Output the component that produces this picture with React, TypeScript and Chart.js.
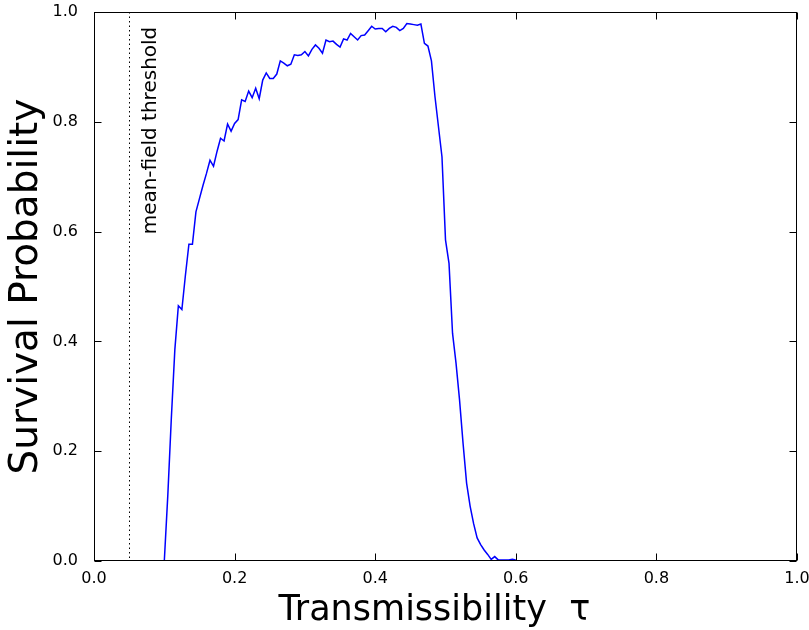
import React, { useEffect, useRef } from "react";
import { Chart, registerables } from "chart.js";

Chart.register(...registerables);

// Transmissibility values (x) and survival probability (y)
const tau: number[] = [
  0.100, 0.105, 0.110, 0.115, 0.120, 0.125, 0.130, 0.135, 0.140, 0.145,
  0.150, 0.155, 0.160, 0.165, 0.170, 0.175, 0.180, 0.185, 0.190, 0.195,
  0.200, 0.205, 0.210, 0.215, 0.220, 0.225, 0.230, 0.235, 0.240, 0.245,
  0.250, 0.255, 0.260, 0.265, 0.270, 0.275, 0.280, 0.285, 0.290, 0.295,
  0.300, 0.305, 0.310, 0.315, 0.320, 0.325, 0.330, 0.335, 0.340, 0.345,
  0.350, 0.355, 0.360, 0.365, 0.370, 0.375, 0.380, 0.385, 0.390, 0.395,
  0.400, 0.405, 0.410, 0.415, 0.420, 0.425, 0.430, 0.435, 0.440, 0.445,
  0.450, 0.455, 0.460, 0.465, 0.470, 0.475, 0.480, 0.485, 0.490, 0.495,
  0.500, 0.505, 0.510, 0.515, 0.520, 0.525, 0.530, 0.535, 0.540, 0.545,
  0.550, 0.555, 0.560, 0.565, 0.570, 0.575, 0.580, 0.585, 0.590, 0.595,
  0.600,
];

const survival: number[] = [
  0.000, 0.120, 0.260, 0.385, 0.465, 0.458, 0.520, 0.577, 0.577, 0.636,
  0.660, 0.684, 0.706, 0.730, 0.719, 0.746, 0.770, 0.765, 0.796, 0.783,
  0.797, 0.804, 0.840, 0.837, 0.856, 0.844, 0.861, 0.842, 0.876, 0.889,
  0.879, 0.879, 0.887, 0.911, 0.907, 0.902, 0.905, 0.922, 0.921, 0.922,
  0.928, 0.920, 0.932, 0.940, 0.934, 0.925, 0.949, 0.946, 0.947, 0.941,
  0.936, 0.951, 0.949, 0.961, 0.955, 0.949, 0.957, 0.958, 0.966, 0.974,
  0.969, 0.970, 0.970, 0.964, 0.970, 0.974, 0.972, 0.966, 0.970, 0.979,
  0.978, 0.977, 0.976, 0.978, 0.943, 0.938, 0.911, 0.846, 0.791, 0.736,
  0.585, 0.542, 0.415, 0.360, 0.293, 0.214, 0.142, 0.100, 0.068, 0.042,
  0.030, 0.020, 0.012, 0.003, 0.008, 0.002, 0.002, 0.002, 0.002, 0.003,
  0.002,
];

const tickValues: number[] = [0, 0.2, 0.4, 0.6, 0.8, 1.0];
const thresholdTau = 0.05;
const thresholdLabel = "mean-field threshold";
const thresholdLabelX = 0.07;
const thresholdLabelY = 0.595;
const xTitle = "Transmissibility  \u03c4  ";
const yTitle = "Survival Probability";

const FONT = "'DejaVu Sans', sans-serif";

const framePlugin = {
  id: "mplFrame",
  afterDatasetsDraw(chart: any) {
    const { ctx, chartArea } = chart;
    const xs = chart.scales.x;
    const ys = chart.scales.y;
    const { left, right, top, bottom } = chartArea;
    ctx.save();
    // threshold dotted line
    const tx = Math.round(xs.getPixelForValue(thresholdTau)) + 0.5;
    ctx.strokeStyle = "#000";
    ctx.lineWidth = 1;
    ctx.setLineDash([1.5, 3]);
    ctx.beginPath();
    ctx.moveTo(tx, top);
    ctx.lineTo(tx, bottom);
    ctx.stroke();
    ctx.setLineDash([]);

    // threshold label
    const fs = 20;
    ctx.font = `${fs}px ${FONT}`;
    ctx.fillStyle = "#000";
    ctx.textAlign = "left";
    ctx.textBaseline = "alphabetic";
    ctx.translate(xs.getPixelForValue(thresholdLabelX) + fs * 0.65, ys.getPixelForValue(thresholdLabelY));
    ctx.rotate(-Math.PI / 2);
    ctx.fillText(thresholdLabel, 0, 0);
    ctx.setTransform(1, 0, 0, 1, 0, 0);

    // frame
    ctx.strokeStyle = "#000";
    ctx.lineWidth = 1;
    const L = Math.round(left) + 0.5;
    const R = Math.round(right) - 0.5;
    const T = Math.round(top) + 0.5;
    const B = Math.round(bottom) - 0.5;
    ctx.strokeRect(L, T, R - L, B - T);

    // inward ticks on all sides
    const tl = 7;
    ctx.beginPath();
    tickValues.forEach((v) => {
      const px = Math.round(xs.getPixelForValue(v)) + 0.5;
      ctx.moveTo(px, B);
      ctx.lineTo(px, B - tl);
      ctx.moveTo(px, T);
      ctx.lineTo(px, T + tl);
      const py = Math.round(ys.getPixelForValue(v)) + 0.5;
      ctx.moveTo(L, py);
      ctx.lineTo(L + tl, py);
      ctx.moveTo(R, py);
      ctx.lineTo(R - tl, py);
    });
    ctx.stroke();
    ctx.restore();
  },
};

export default function App() {
  const ref = useRef<HTMLCanvasElement | null>(null);
  useEffect(() => {
    if (!ref.current) return;
    const data = tau.map((t, i) => ({ x: t, y: survival[i] }));
    const chart = new Chart(ref.current, {
      type: "line",
      data: {
        datasets: [
          {
            data,
            borderColor: "rgb(0,0,255)",
            borderWidth: 1.5,
            pointRadius: 0,
            fill: false,
            tension: 0,
          },
        ],
      },
      options: {
        animation: false,
        responsive: false,
        devicePixelRatio: 1,
        layout: { padding: { left: 0, top: 12, right: 12, bottom: 0 } },
        plugins: { legend: { display: false }, tooltip: { enabled: false } },
        scales: {
          x: {
            type: "linear",
            min: 0,
            max: 1,
            grid: { display: false },
            border: { display: false },
            ticks: {
              stepSize: 0.2,
              padding: 0,
              color: "#000",
              font: { family: FONT, size: 16 },
              maxRotation: 0,
              callback: (v: any) => Number(v).toFixed(1),
            },
            title: {
              display: true,
              text: xTitle,
              color: "#000",
              font: { family: FONT, size: 35, lineHeight: 1.0 },
              padding: { top: 2, bottom: 2 },
            },
            afterFit: (s: any) => {
              s.height = 69;
              s.paddingLeft = 0;
              s.paddingRight = 0;
            },
          },
          y: {
            type: "linear",
            min: 0,
            max: 1,
            grid: { display: false },
            border: { display: false },
            ticks: {
              stepSize: 0.2,
              padding: 8,
              color: "#000",
              font: { family: FONT, size: 16 },
              callback: (v: any) => Number(v).toFixed(1),
            },
            title: {
              display: true,
              text: yTitle,
              color: "#000",
              font: { family: FONT, size: 39 },
              padding: { top: 3, bottom: 3 },
            },
            afterFit: (s: any) => {
              s.width = 94;
              s.paddingTop = 0;
              s.paddingBottom = 0;
            },
          },
        },
      },
      plugins: [framePlugin],
    });
    return () => chart.destroy();
  }, []);
  return (
    <div style={{ position: "fixed", left: 0, top: 0, width: 809, height: 630, background: "#fff" }}>
      <canvas ref={ref} width={809} height={630} />
    </div>
  );
}
